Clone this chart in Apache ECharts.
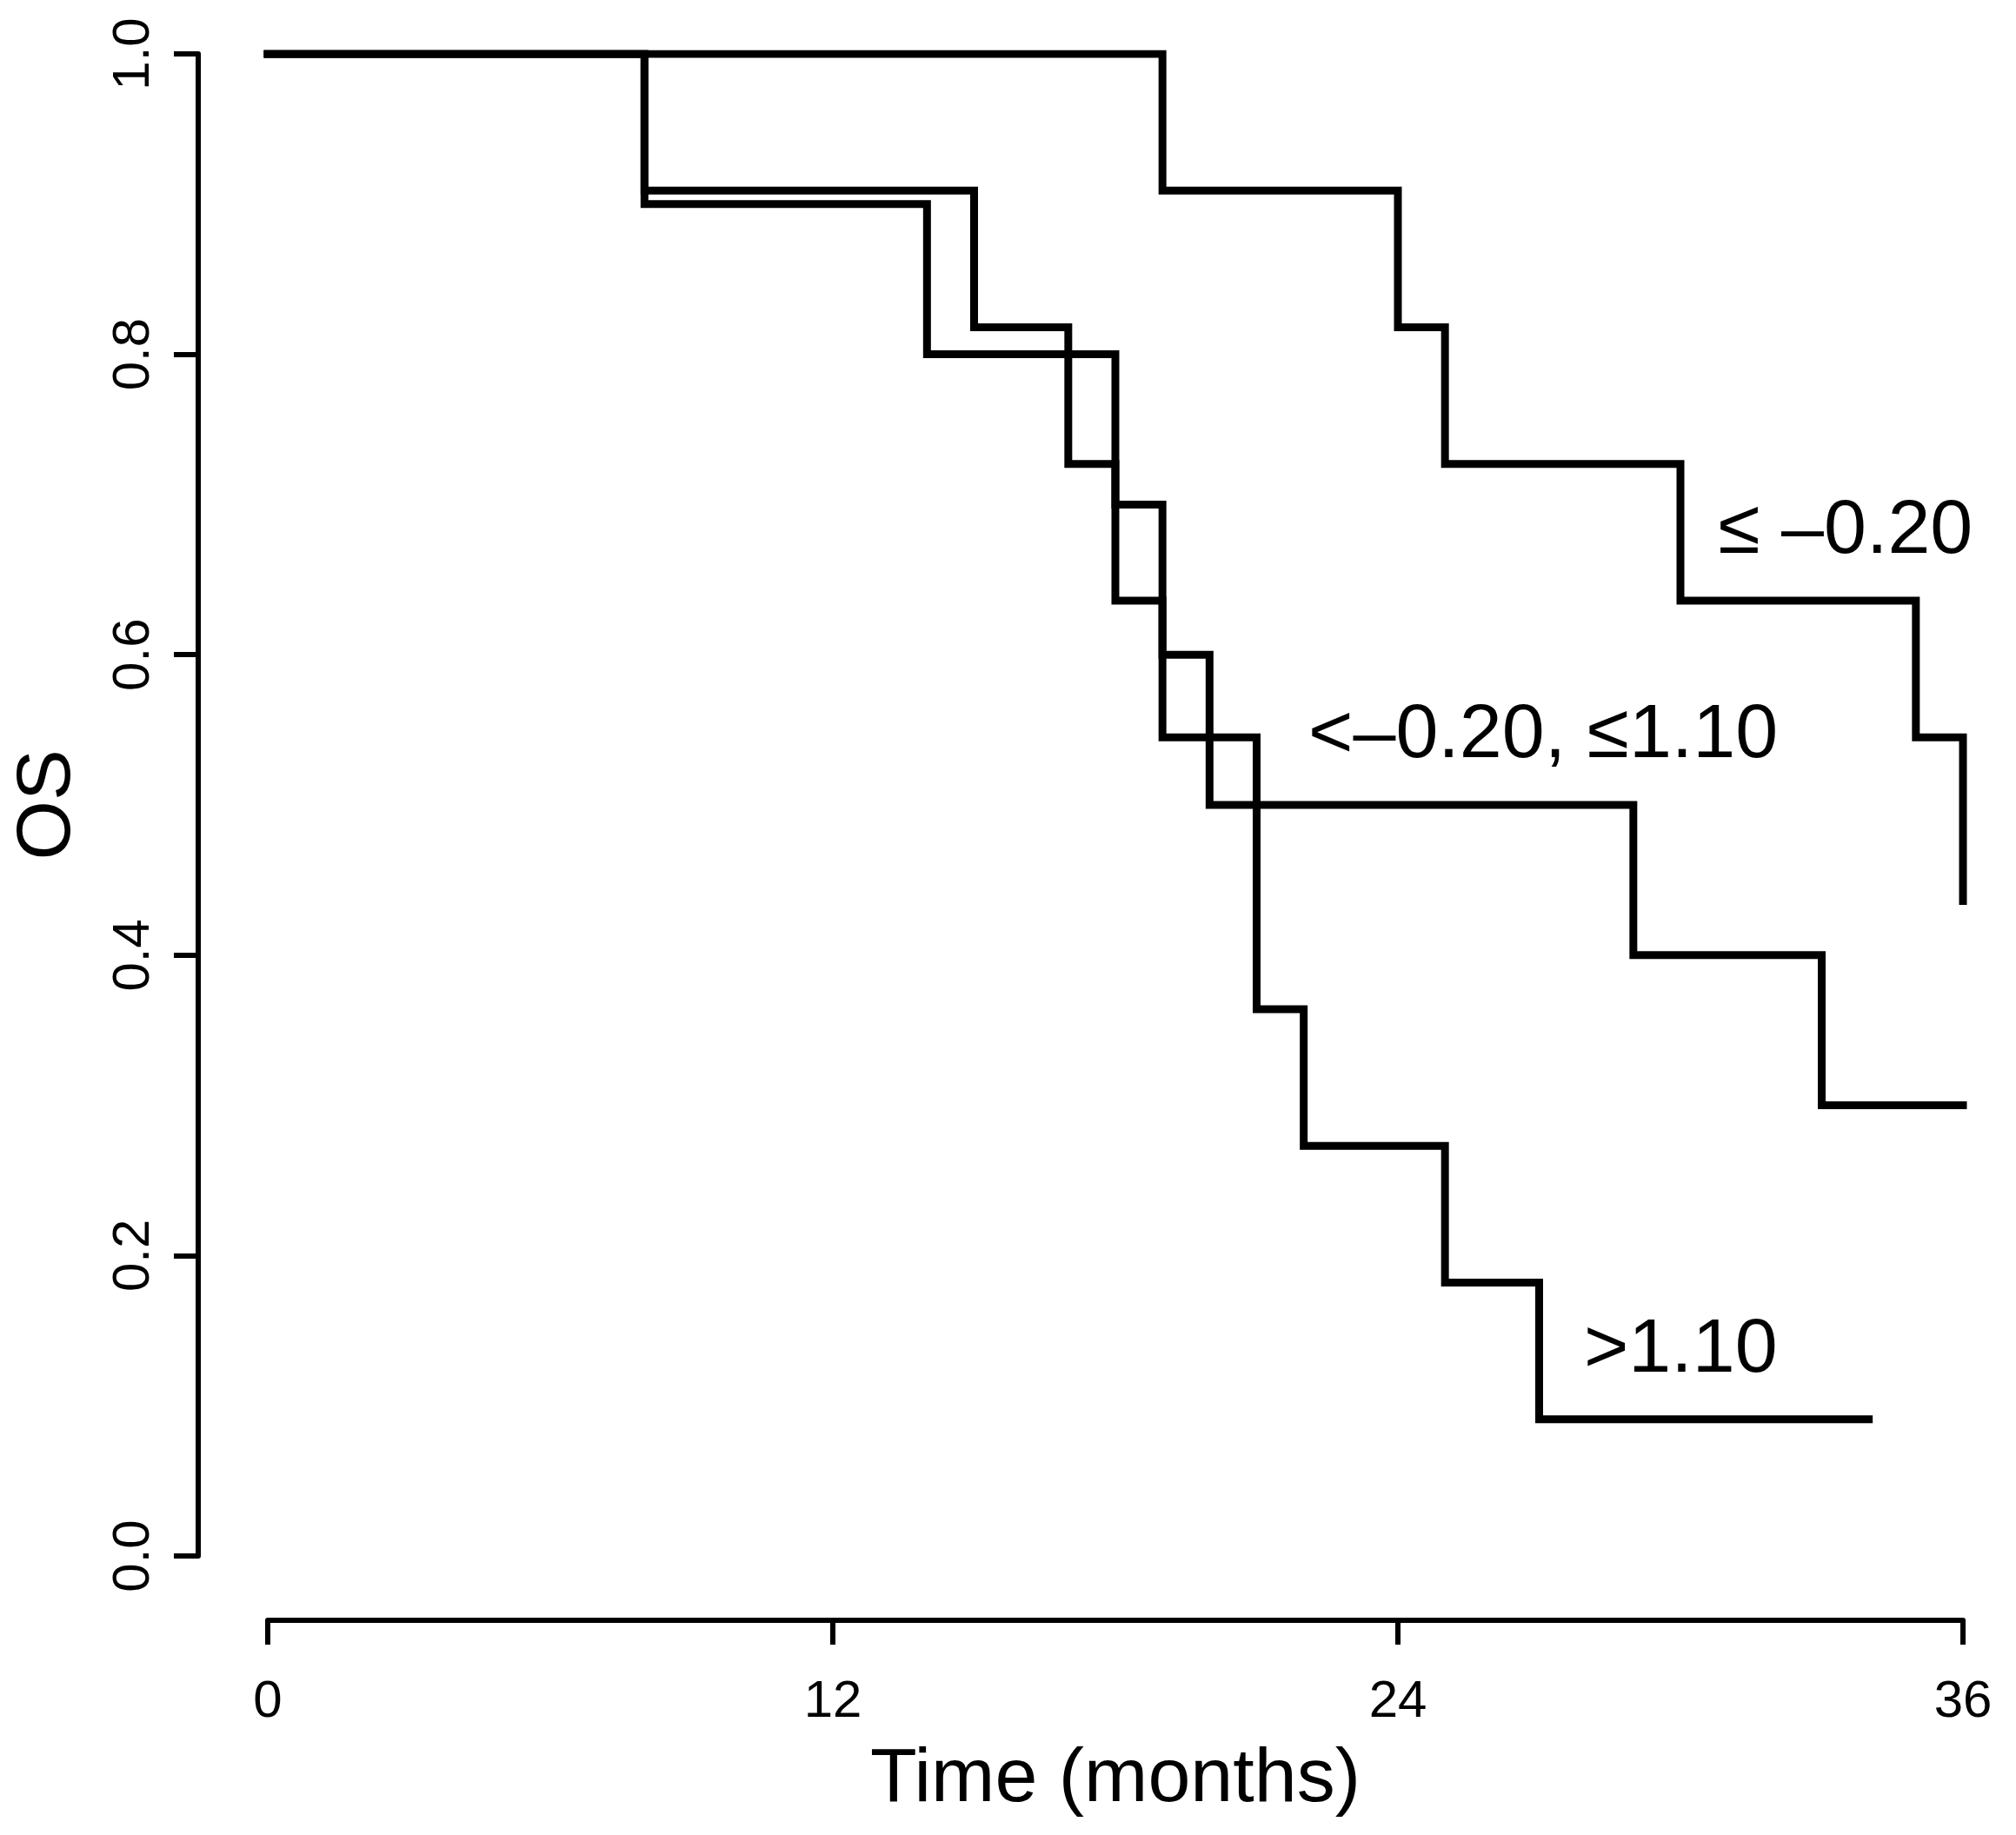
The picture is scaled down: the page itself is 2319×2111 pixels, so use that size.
<!DOCTYPE html>
<html>
<head>
<meta charset="utf-8">
<script src="https://cdn.jsdelivr.net/npm/echarts@6/dist/echarts.min.js"></script>
<style>
html,body{margin:0;padding:0;background:#fff;}
#chart{width:2319px;height:2111px;}
</style>
</head>
<body>
<div id="chart"></div>
<script>
// Kaplan-Meier step points [time (months), OS]
const groupLow = [[0,1.0],[19,0.909],[24,0.818],[25,0.727],[30,0.636],[35,0.545],[36,0.436]];
const groupMid = [[0,1.0],[8,0.900],[14,0.800],[18,0.700],[19,0.600],[20,0.500],[29,0.400],[33,0.300],[36,0.300]];
const groupHigh = [[0,1.0],[8,0.909],[15,0.818],[17,0.727],[18,0.636],[19,0.545],[21,0.364],[22,0.273],[25,0.182],[27,0.091],[34,0.091]];
const groupLabels = ['≤ –0.20', '<–0.20, ≤1.10', '>1.10'];
const labelAnchors = [[30.8,0.682],[22.1,0.546],[27.95,0.137]];
const xTicks = [0,12,24,36];
const yTicks = [0.0,0.2,0.4,0.6,0.8,1.0];

const FONT = '"Liberation Sans", Arial, Helvetica, sans-serif';
const chart = echarts.init(document.getElementById('chart'), null, {renderer:'canvas'});

function km(name, data){
  return {
    name: name, type:'line', step:'end', data:data,
    symbol:'none', animation:false,
    lineStyle:{color:'#000', width:9, cap:'square', join:'miter'}
  };
}

chart.setOption({
  backgroundColor:'#fff',
  animation:false,
  grid:{left:308, right:61, top:62, bottom:321, containLabel:false},
  xAxis:{
    type:'value', min:0, max:36, interval:12, offset:74,
    axisLine:{show:true, onZero:false, lineStyle:{color:'#000', width:6}},
    axisTick:{show:true, length:28, lineStyle:{color:'#000', width:6}},
    axisLabel:{color:'#000', fontSize:60, fontFamily:FONT, margin:64,
      formatter:function(v){ return xTicks.indexOf(v) >= 0 ? String(v) : ''; }},
    splitLine:{show:false},
    name:'Time (months)', nameLocation:'middle', nameGap:140,
    nameTextStyle:{color:'#000', fontSize:88, fontFamily:FONT}
  },
  yAxis:{
    type:'value', min:0, max:1, interval:0.2, offset:80,
    axisLine:{show:true, onZero:false, lineStyle:{color:'#000', width:6}},
    axisTick:{show:true, length:28, lineStyle:{color:'#000', width:6}},
    axisLabel:{color:'#000', fontSize:60, fontFamily:FONT, margin:44, rotate:90,
      formatter:function(v){ return v.toFixed(1); }},
    splitLine:{show:false},
    name:'OS', nameLocation:'middle', nameGap:128, nameRotate:90,
    nameTextStyle:{color:'#000', fontSize:88, fontFamily:FONT}
  },
  series:[
    km(groupLabels[0], groupLow),
    km(groupLabels[1], groupMid),
    km(groupLabels[2], groupHigh),
    {
      type:'scatter', symbolSize:0, animation:false, silent:true,
      data: labelAnchors.map(function(p,i){ return {value:p, name:groupLabels[i]}; }),
      label:{show:true, position:'right', distance:0, color:'#000', opacity:1,
        textBorderWidth:0, fontSize:88, fontFamily:FONT,
        formatter:function(p){ return p.name; }},
      emphasis:{disabled:true}
    }
  ]
});
</script>
</body>
</html>
